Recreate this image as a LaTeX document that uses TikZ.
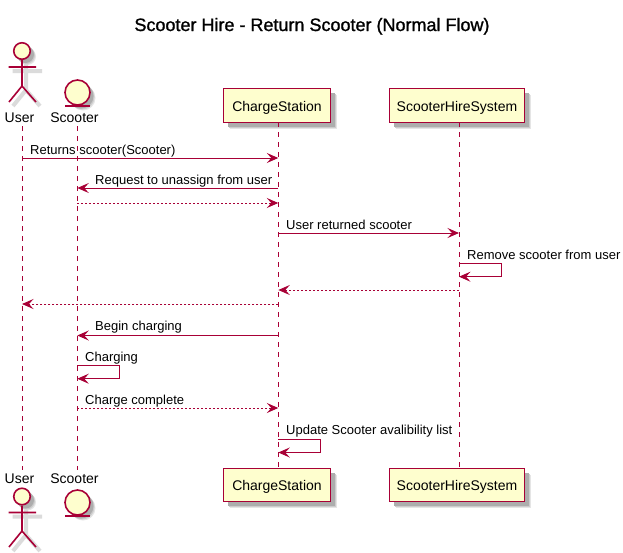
\documentclass[tikz,border=0pt]{standalone}
\usepackage{fontspec}
\setmainfont{Liberation Sans}
\newfontfamily\titlefont[FakeBold=1.2]{Liberation Sans}
\usetikzlibrary{arrows.meta,calc,backgrounds}
\definecolor{pline}{HTML}{A80036}
\definecolor{pfill}{HTML}{FEFECE}
\newcommand{\boxshade}[1]{%
  \begin{scope}[on background layer]
  \foreach \d/\o in {6.5/10,5.5/20,4.5/32}{
    \fill[black!\o] ($(#1.center)+(-20,-10)+(\d,\d)$) rectangle ($(#1.south east)+(\d,\d)$);
    \fill[black!\o] ($(#1.north east)+(-10,0)+(\d,\d)$) rectangle ($(#1.south east)+(\d,\d)$);
    \fill[black!\o] ($(#1.south west)+(0,-10)+(\d,\d)$) rectangle ($(#1.south east)+(\d,\d)$);}
  \end{scope}
  \draw[draw=pline,line width=1.3pt] (#1.north west) rectangle (#1.south east);}
\newcommand{\roundshade}[2]{%
  \begin{scope}[on background layer]
  \foreach \d/\o in {5.5/10,4.5/20,3.5/32}{
    \fill[black!\o] ($(#1)+(\d,\d)$) circle[radius=#2];}
  \end{scope}}
\tikzset{
  x=1pt,y=-1pt,
  partbox/.style={fill=pfill,rectangle,inner sep=0pt,text height=11pt,text depth=0pt,font=\fontsize{14}{16}\selectfont,text=black},
  partlabel/.style={inner sep=0pt,font=\fontsize{14}{16}\selectfont,text=black},
  headshape/.style={circle,draw=pline,fill=pfill,line width=1.6pt,inner sep=0pt},
  limb/.style={draw=pline,line width=1.6pt},
  limbshadow/.style={draw=black!14,line width=4pt},
  lifeline/.style={draw=pline,line width=.9pt,dash pattern=on 5pt off 5pt},
  msg/.style={draw=pline,line width=1pt,-{Stealth[length=11.5pt,width=10pt,inset=4.5pt]}},
  reply/.style={msg,dash pattern=on 2pt off 2pt},
  msgtext/.style={anchor=base west,inner sep=0pt,font=\fontsize{13}{15}\selectfont,text=black},
}
\begin{document}
\begin{tikzpicture}
\useasboundingbox (0,0) rectangle (623,552);
\node[anchor=base,inner sep=0pt,font=\fontsize{18}{20}\titlefont] (title) at (312,31) {Scooter Hire - Return Scooter (Normal Flow)};

% top actor
\node[headshape,minimum size=16.5pt] (uhead) at (22,51) {};
\roundshade{uhead}{8.5}
\coordinate (uhip) at (22,86);
\coordinate (uarml) at (8.5,67);
\coordinate (uarmr) at (36,67);
\coordinate (ufootl) at (9,102);
\coordinate (ufootr) at (36,102);
\draw[limbshadow] ($(uarml)+(4,4)$) -- ($(uarmr)+(6,4)$) ($(uhead.south)+(4,4)$) -- ($(uhip)+(4,4)$) ($(ufootl)+(4,4)$) -- ($(uhip)+(4,4)$) -- ($(ufootr)+(4,4)$);
\draw[limb] (uhead.south) -- (uhip) (uarml) -- (uarmr) (ufootl) -- (uhip) -- (ufootr);
\node[partlabel] (ulabel) at (19.5,118) {User};

% top entity
\node[headshape,minimum size=25pt] (ecircle) at (77.5,92.5) {};
\roundshade{ecircle}{12.5}
\draw[limb] (65,106) -- (90,106);
\node[partlabel] (elabel) at (74.5,118) {Scooter};

% lifelines (drawn first so the boxes sit over them)
\coordinate (Ux) at (22,0);
\coordinate (Ex) at (77.3,0);
\coordinate (Cx) at (278.3,0);
\coordinate (Sx) at (459,0);

% top boxes
\node[partbox,minimum width=106pt,minimum height=33pt] (cs) at (277,105.5) {ChargeStation};
\boxshade{cs}
\node[partbox,minimum width=134pt,minimum height=33pt] (shs) at (457,105.5) {ScooterHireSystem};
\boxshade{shs}

% bottom boxes
\node[partbox,minimum width=106pt,minimum height=32pt] (csb) at (277,485) {ChargeStation};
\boxshade{csb}
\node[partbox,minimum width=134pt,minimum height=32pt] (shsb) at (457,485) {ScooterHireSystem};
\boxshade{shsb}

% bottom entity
\node[partlabel] (elabelb) at (74.5,479) {Scooter};
\node[headshape,minimum size=25pt] (ecircleb) at (77.5,502.5) {};
\roundshade{ecircleb}{12.5}
\draw[limb] (65,516) -- (90,516);

% bottom actor
\node[partlabel] (ulabelb) at (19.5,479) {User};
\node[headshape,minimum size=16.5pt] (uheadb) at (22,496.5) {};
\roundshade{uheadb}{8.5}
\coordinate (uhipb) at (22,531);
\coordinate (uarmlb) at (8.5,512.5);
\coordinate (uarmrb) at (36,512.5);
\coordinate (ufootlb) at (9,547);
\coordinate (ufootrb) at (36,547);
\draw[limbshadow] ($(uarmlb)+(4,4)$) -- ($(uarmrb)+(6,4)$) ($(uheadb.south)+(4,4)$) -- ($(uhipb)+(4,4)$) ($(ufootlb)+(4,4)$) -- ($(uhipb)+(4,4)$) -- ($(ufootrb)+(4,4)$);
\draw[limb] (uheadb.south) -- (uhipb) (uarmlb) -- (uarmrb) (ufootlb) -- (uhipb) -- (ufootrb);

% lifelines
\draw[lifeline] (Ux|-0,126) -- (Ux|-0,470);
\draw[lifeline] (Ex|-0,126) -- (Ex|-0,470);
\draw[lifeline] (Cx|-cs.south) -- (Cx|-csb.north);
\draw[lifeline] (Sx|-shs.south) -- (Sx|-shsb.north);

% messages
\draw[msg] (Ux|-0,158) -- (Cx|-0,158);
\node[msgtext] (m1) at (30,154) {Returns scooter(Scooter)};
\draw[msg] (Cx|-0,188) -- (Ex|-0,188);
\node[msgtext] (m2) at (95,184) {Request to unassign from user};
\draw[reply] (Ex|-0,203) -- (Cx|-0,203);
\draw[msg] (Cx|-0,233) -- (Sx|-0,233);
\node[msgtext] (m3) at (286,229) {User returned scooter};
\draw[msg] (Sx|-0,263.3) -| (501.7,276.7) -- (Sx|-0,276.7);
\node[msgtext] (m4) at (467,259) {Remove scooter from user};
\draw[reply] (Sx|-0,290) -- (Cx|-0,290);
\draw[reply] (Cx|-0,304) -- (Ux|-0,304);
\draw[msg] (Cx|-0,335.5) -- (Ex|-0,335.5);
\node[msgtext] (m5) at (95,330) {Begin charging};
\draw[msg] (Ex|-0,365.3) -| (119.3,378.7) -- (Ex|-0,378.7);
\node[msgtext] (m6) at (85,361) {Charging};
\draw[reply] (Ex|-0,408) -- (Cx|-0,408);
\node[msgtext] (m7) at (85,404) {Charge complete};
\draw[msg] (Cx|-0,439.3) -| (320.7,452.5) -- (Cx|-0,452.5);
\node[msgtext] (m8) at (286,434) {Update Scooter avalibility list};
\end{tikzpicture}
\end{document}
